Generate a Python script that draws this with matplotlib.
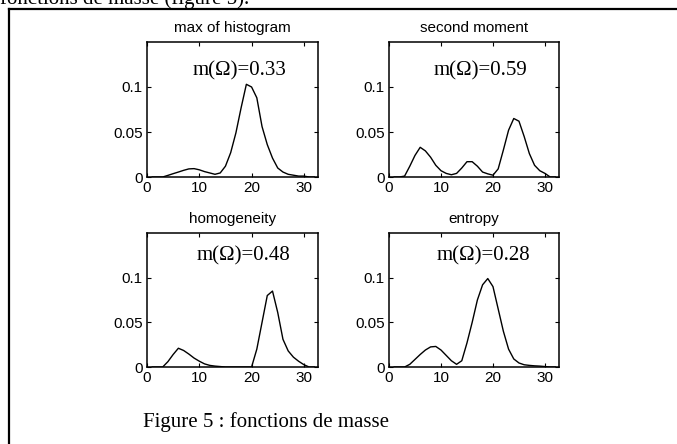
import numpy as np
import matplotlib
matplotlib.use("Agg")
import matplotlib.pyplot as plt
from matplotlib.lines import Line2D

# bins 1..32
x = np.arange(1, 33)

max_hist = [0, 0, 0, 0.0018, 0.0037, 0.0055, 0.0074, 0.009, 0.0093, 0.008,
            0.006, 0.0045, 0.003, 0.0045, 0.012, 0.027, 0.049, 0.077, 0.103, 0.1,
            0.088, 0.056, 0.036, 0.021, 0.01, 0.0055, 0.003, 0.002, 0.001, 0.001,
            0.0, 0.0]
second_moment = [0, 0, 0.001, 0.012, 0.024, 0.033, 0.029, 0.022, 0.013, 0.007,
                 0.004, 0.0025, 0.004, 0.01, 0.017, 0.017, 0.012, 0.0055, 0.0035, 0.002,
                 0.009, 0.03, 0.052, 0.065, 0.062, 0.045, 0.026, 0.013, 0.007, 0.004,
                 0.0, 0.0]
homogeneity = [0, 0, 0, 0.006, 0.014, 0.021, 0.0185, 0.0145, 0.01, 0.0065,
               0.0035, 0.0018, 0.001, 0.0005, 0, 0, 0, 0, 0, 0,
               0.02, 0.05, 0.08, 0.085, 0.061, 0.031, 0.018, 0.011, 0.0064, 0.0026,
               0.0, 0.0]
entropy = [0, 0, 0, 0.003, 0.0085, 0.014, 0.019, 0.0225, 0.023, 0.019,
           0.013, 0.007, 0.003, 0.007, 0.027, 0.05, 0.075, 0.092, 0.099, 0.09,
           0.065, 0.04, 0.02, 0.009, 0.0045, 0.0025, 0.0018, 0.0013, 0.001, 0.0005,
           0.0, 0.0]

titles = ["max of histogram", "second moment", "homogeneity", "entropy"]
m_values = ["0.33", "0.59", "0.48", "0.28"]
series = [max_hist, second_moment, homogeneity, entropy]

W, H = 677, 444
fig = plt.figure(figsize=(W / 100, H / 100), dpi=100)

# axes rectangles in pixels: left, top, right, bottom
rects = [(147, 42, 318, 177), (389, 42, 559, 177),
         (147, 233, 318, 367), (389, 233, 559, 367)]
# annotation position (axes fraction)
ann_pos = [(0.265, 0.75), (0.265, 0.75), (0.29, 0.795), (0.28, 0.795)]

for i in range(4):
    l, t, r, b = rects[i]
    ax = fig.add_axes([l / W, 1 - b / H, (r - l) / W, (b - t) / H])
    ax.plot(x, series[i], color="black", lw=1.0)
    ax.set_xlim(0, 32.7)
    ax.set_ylim(0, 0.15)
    ax.set_xticks([0, 10, 20, 30])
    ax.set_xticklabels(["0", "10", "20", "30"])
    ax.set_yticks([0, 0.05, 0.1])
    ax.set_yticklabels(["0", "0.05", "0.1"])
    ax.tick_params(direction="in", length=3, width=0.8, top=True, right=True,
                   labelsize=11, pad=3)
    for lab in ax.get_xticklabels() + ax.get_yticklabels():
        lab.set_family("Liberation Sans")
    for s in ax.spines.values():
        s.set_linewidth(1.1)
    ax.set_title(titles[i], fontsize=11, family="Liberation Sans", pad=7)
    ax.text(ann_pos[i][0], ann_pos[i][1], "m(\u03a9)=" + m_values[i],
            transform=ax.transAxes, fontsize=15, family="Liberation Serif",
            ha="left", va="baseline")

# caption and the cut-off line of body text above the box
fig.text(143 / W, 1 - 427 / H, "Figure 5 : fonctions de masse",
         fontsize=15, family="Liberation Serif", ha="left", va="baseline")
fig.text(0.0, 1 - 4 / H, "fonctions de masse (figure 5).",
         fontsize=15, family="Liberation Serif", ha="left", va="baseline")

# frame of the figure box (only left and top edges visible)
fig.add_artist(Line2D([9 / W, 9 / W], [0, 1 - 9 / H], color="black", lw=1.6,
                      transform=fig.transFigure))
fig.add_artist(Line2D([9 / W, 1], [1 - 9 / H, 1 - 9 / H], color="black", lw=1.6,
                      transform=fig.transFigure))

fig.savefig("out.png", dpi=100)
